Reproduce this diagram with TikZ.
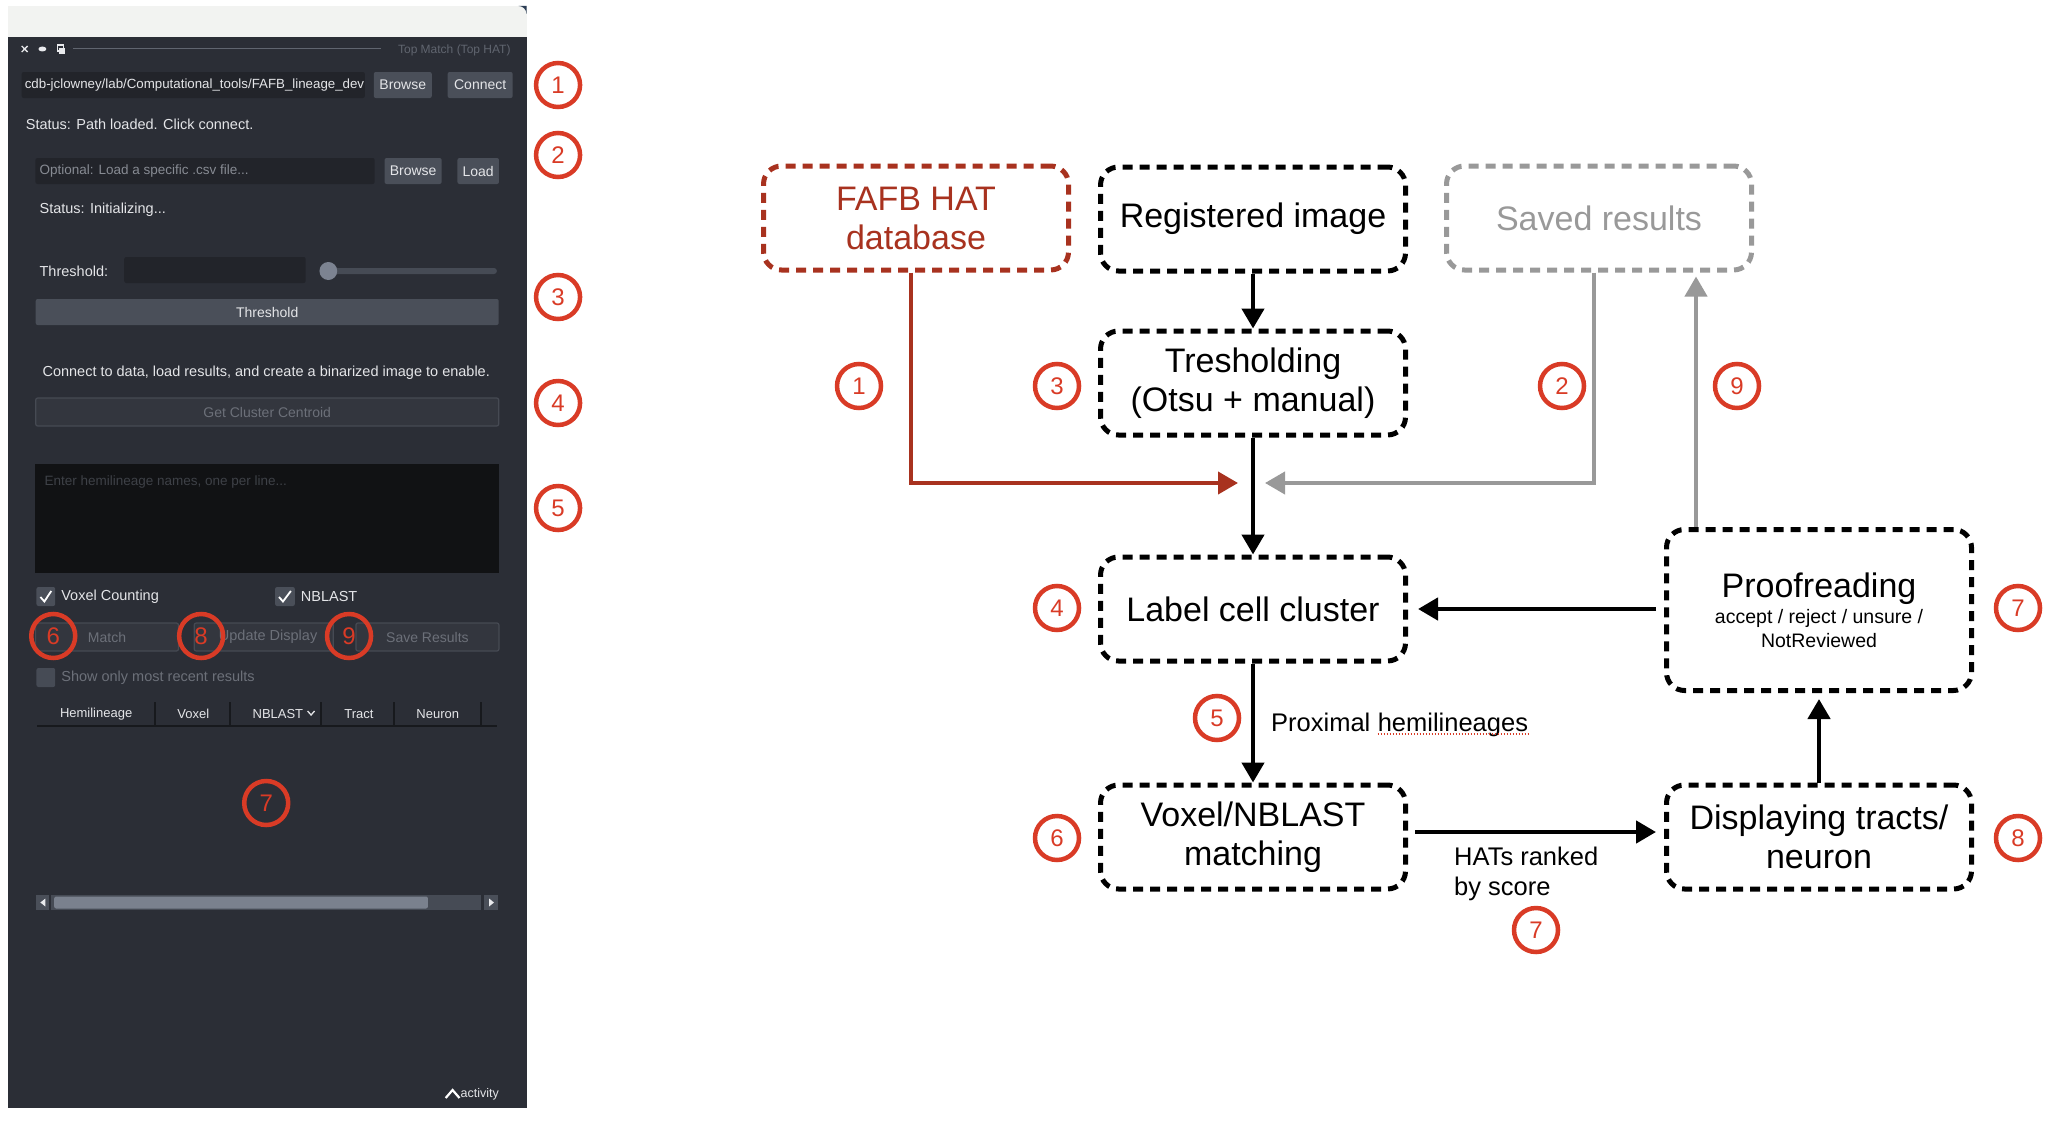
\documentclass[tikz,border=0pt]{standalone}
\usepackage{fontspec}
\setmainfont{Liberation Sans}
\usetikzlibrary{arrows.meta}
\definecolor{cpanel}{HTML}{2B2E36}
\definecolor{cstrip}{HTML}{F2F3F1}
\definecolor{ccorner}{HTML}{2C3E55}
\definecolor{cfield}{HTML}{22242A}
\definecolor{cbtn}{HTML}{4A4F59}
\definecolor{cbtndis}{HTML}{33363E}
\definecolor{cbtndisb}{HTML}{464A53}
\definecolor{ctxt}{HTML}{E4E5E8}
\definecolor{ctxtdis}{HTML}{6C7079}
\definecolor{cph}{HTML}{878B93}
\definecolor{carea}{HTML}{111214}
\definecolor{careaph}{HTML}{3E4147}
\definecolor{ctitle}{HTML}{60656F}
\definecolor{csep}{HTML}{17191D}
\definecolor{ctrack}{HTML}{464B55}
\definecolor{cthumb}{HTML}{7A818E}
\definecolor{cknob}{HTML}{7C8391}
\definecolor{cnum}{HTML}{D93B26}
\definecolor{cboxred}{HTML}{A8321F}
\definecolor{cgray}{HTML}{999999}
\newcommand\fsz[2]{\fontsize{#1}{#2}\selectfont}
\begin{document}
\begin{tikzpicture}[x=1pt,y=-1pt,
  dbox/.style={draw, line width=5pt, dash pattern=on 10pt off 7pt, rounded corners=18pt,
    minimum width=305pt, minimum height=104pt, align=center, font=\fsz{34}{39}, inner sep=0pt},
  num/.style={circle, draw=cnum, line width=4.5pt, minimum size=44pt, inner sep=0pt,
    text=cnum, font=\fsz{24}{24}},
  arr/.style={line width=4.5pt, -{Triangle[length=20pt,width=22pt]}},
  lbl/.style={inner sep=0pt, font=\fsz{25.5}{30}},
  ptxt/.style={text=ctxt, inner sep=0pt, font=\fsz{14.5}{17}},
  htxt/.style={text=ctxt, inner sep=0pt, font=\fsz{13}{15}},
  btn/.style={fill=cbtn, rounded corners=2pt, text=ctxt, font=\fsz{14}{16}, inner sep=0pt},
  btndis/.style={fill=cbtndis, draw=cbtndisb, line width=1.2pt, rounded corners=2pt,
    text=ctxtdis, font=\fsz{14}{16}, inner sep=0pt}]
\useasboundingbox (0,0) rectangle (2060,1124);
\fill[white] (0,0) rectangle (2060,1124);

% ---------------- GUI panel ----------------
\begin{scope}[xscale=0.986]
\fill[cstrip] (8,6) rectangle (534,37);
\fill[ccorner] (534,6) -- (526,6) arc[start angle=90,end angle=0,radius=8pt] -- cycle;
\fill[cpanel] (8,37) rectangle (534,1108);
% title bar
\draw[ctxt, line width=1.3pt] (22,46) -- (28,52) (28,46) -- (22,52);
\fill[ctxt!80] (43,49) ellipse (4pt and 2.5pt);
\draw[ctxt!80, line width=1.1pt] (58,45) rectangle (64,51);
\fill[ctxt!80] (60,48) rectangle (66,54);
\draw[ctitle, line width=1pt] (74,49) -- (386,49);
\node[anchor=east, text=ctitle, font=\fsz{12}{14}, inner sep=0pt] (title) at (518,50) {Top Match (Top HAT)};
% row 1
\fill[cfield, rounded corners=2pt] (22,72) rectangle (370,98);
\node[ptxt, anchor=west, font=\fsz{13.3}{16}] (path) at (25,85) {cdb-jclowney/lab/Computational\_tools/FAFB\_lineage\_dev};
\node[btn, minimum width=58pt, minimum height=26pt] (browse1) at (408.5,85) {Browse};
\node[btn, minimum width=65pt, minimum height=26pt] (connect) at (487,85) {Connect};
\node[ptxt, anchor=west] (status1) at (26,124) {Status: Path loaded. Click connect.};
% row 2
\fill[cfield, rounded corners=2pt] (36,158) rectangle (380,184);
\node[ptxt, anchor=west, text=cph, font=\fsz{13.5}{16}] (opt) at (40,171) {Optional: Load a specific .csv file...};
\node[btn, minimum width=57pt, minimum height=26pt] (browse2) at (419,171) {Browse};
\node[btn, minimum width=41.5pt, minimum height=26pt] (load) at (485,171) {Load};
\node[ptxt, anchor=west] (status2) at (40,210) {Status: Initializing...};
% threshold
\node[ptxt, anchor=west] (thlbl) at (40,271) {Threshold:};
\fill[cfield, rounded corners=2pt] (126,257) rectangle (310,283);
\fill[ctrack, rounded corners=3pt] (333,268) rectangle (504,274);
\fill[cknob] (333,271) circle (9pt);
\node[btn, minimum width=463pt, minimum height=26pt] (thbtn) at (271,312) {Threshold};
\node[ptxt] (hint) at (270,373) {Connect to data, load results, and create a binarized image to enable.};
\node[btndis, minimum width=463pt, minimum height=28pt] (centroid) at (271,412) {Get Cluster Centroid};
\fill[carea] (36,464) rectangle (506,573);
\node[ptxt, anchor=west, text=careaph, font=\fsz{13.5}{16}] (areaph) at (45,482) {Enter hemilineage names, one per line...};
% check boxes
\fill[cbtn, rounded corners=2pt] (37,587) rectangle (56,606);
\draw[white, line width=1.8pt] (41,597) -- (45,601.5) -- (52,591);
\node[ptxt, anchor=west] (vc) at (62,597) {Voxel Counting};
\fill[cbtn, rounded corners=2pt] (279,587) rectangle (299,606);
\draw[white, line width=1.8pt] (283,597) -- (287,601.5) -- (295,591);
\node[ptxt, anchor=west] (nb) at (305,597) {NBLAST};
% buttons
\node[btndis, minimum width=143pt, minimum height=28pt] (match) at (108.5,637) {Match};
\node[btndis, minimum width=139pt, minimum height=28pt] (upd) at (267.5,637) {};
\node[ptxt, anchor=east, text=ctxtdis, font=\fsz{14.5}{16}] (updt) at (322,637) {Update Display};
\node[btndis, minimum width=143pt, minimum height=28pt] (save) at (433.5,637) {Save Results};
\fill[ctrack, rounded corners=2pt] (37,668) rectangle (56,687);
\node[ptxt, anchor=west, text=ctxtdis] (recent) at (62,678) {Show only most recent results};
% table header
\draw[csep, line width=2pt] (38,726) -- (504,726);
\foreach \x in {157.5,233.5,325.5,400,488} \draw[csep, line width=2pt] (\x,702) -- (\x,726);
\node[htxt] (h1) at (97.5,714) {Hemilineage};
\node[htxt] (h2) at (196,714) {Voxel};
\node[htxt, anchor=west] (h3) at (256,714) {NBLAST};
\draw[ctxt, line width=1.3pt] (312,711) -- (315.5,715) -- (319,711);
\node[htxt] (h4) at (364,714) {Tract};
\node[htxt] (h5) at (444,714) {Neuron};
% scrollbar
\fill[cbtn] (37,895) rectangle (50,910);
\fill[ctxt!80] (41,902.5) -- (46,898.5) -- (46,906.5) -- cycle;
\fill[ctrack] (52,895) rectangle (488,910);
\fill[cthumb, rounded corners=2pt] (55,896.5) rectangle (434,908.5);
\fill[cbtn] (491,895) rectangle (505,910);
\fill[ctxt!80] (501,902.5) -- (496,898.5) -- (496,906.5) -- cycle;
% activity
\draw[white, line width=2.2pt] (452,1098) -- (459,1090) -- (466,1098);
\node[anchor=base west, text=ctxt, font=\fsz{12.5}{14}, inner sep=0pt] (act) at (467,1097) {activity};
% panel numbers
\node[num] (p6) at (54,636) {6};
\node[num] (p8) at (204,636) {8};
\node[num] (p9) at (354,636) {9};
\node[num] (p7) at (270,803) {7};
\node[num] (q1) at (566,85) {1};
\node[num] (q2) at (566,155) {2};
\node[num] (q3) at (566,297) {3};
\node[num] (q4) at (566,403) {4};
\node[num] (q5) at (566,508) {5};
\end{scope}

% ---------------- flow diagram ----------------
\node[dbox, draw=cboxred, text=cboxred] (fafb) at (916,218) {FAFB HAT\\database};
\node[dbox] (reg) at (1253,219) {Registered image};
\node[dbox, draw=cgray, text=cgray] (saved) at (1599,218) {Saved results};
\node[dbox] (thr) at (1253,383) {Tresholding\\(Otsu + manual)};
\node[dbox] (label) at (1253,609) {Label cell cluster};
\node[dbox] (vox) at (1253,837) {Voxel/NBLAST\\matching};
\node[dbox, minimum height=161pt, font=\fsz{19.5}{24}] (proof) at (1819,610)
  {{\fsz{34}{39}Proofreading}\\[2pt]accept / reject / unsure /\\NotReviewed};
\node[dbox] (disp) at (1819,837) {Displaying tracts/\\neuron};

\coordinate (merge) at (1253,483);
\draw[arr] (reg.south) -- (thr.north);
\draw[line width=4.5pt] (thr.south) -- (merge);
\draw[arr] (merge) -- (label.north);
\draw[arr, color=cboxred, line width=4pt] ([xshift=-5pt]fafb.south) |- ([xshift=-15pt]merge);
\draw[arr, color=cgray, line width=4pt] ([xshift=-5pt]saved.south) |- ([xshift=12pt]merge);
\draw[arr, color=cgray, line width=4pt, shorten >=4pt] ([xshift=-123pt]proof.north) -- ([xshift=-123pt]proof.north |- saved.south);
\draw[arr] ([xshift=-8pt]proof.west |- label.east) -- ([xshift=10pt]label.east);
\draw[arr] (label.south) -- (vox.north);
\draw[arr] ([xshift=7pt,yshift=5pt]vox.east) -- ([xshift=-8pt,yshift=5pt]vox.east -| disp.west);
\draw[arr] (disp.north) -- ([yshift=-6pt]proof.south);

\node[lbl, anchor=base west] (prox) at (1271,731) {Proximal};
\node[lbl, anchor=base west] (hemi) at ([xshift=7pt]prox.base east) {hemilineages};
\draw[cnum, line width=1.2pt, dash pattern=on 1.5pt off 1.5pt] ([yshift=-3pt]hemi.base west) -- ([yshift=-3pt]hemi.base east);
\node[lbl, anchor=base west] (hats1) at (1454,865) {HATs ranked};
\node[lbl, anchor=base west] (hats2) at (1454,895) {by score};

\node[num] (c1) at (859,386) {1};
\node[num] (c3) at (1057,386) {3};
\node[num] (c2) at (1562,386) {2};
\node[num] (c9) at (1737,386) {9};
\node[num] (c4) at (1057,608) {4};
\node[num] (c7) at (2018,608) {7};
\node[num] (c5) at (1217,718) {5};
\node[num] (c6) at (1057,838) {6};
\node[num] (c8) at (2018,838) {8};
\node[num] (c7b) at (1536,930) {7};
\end{tikzpicture}
\end{document}
